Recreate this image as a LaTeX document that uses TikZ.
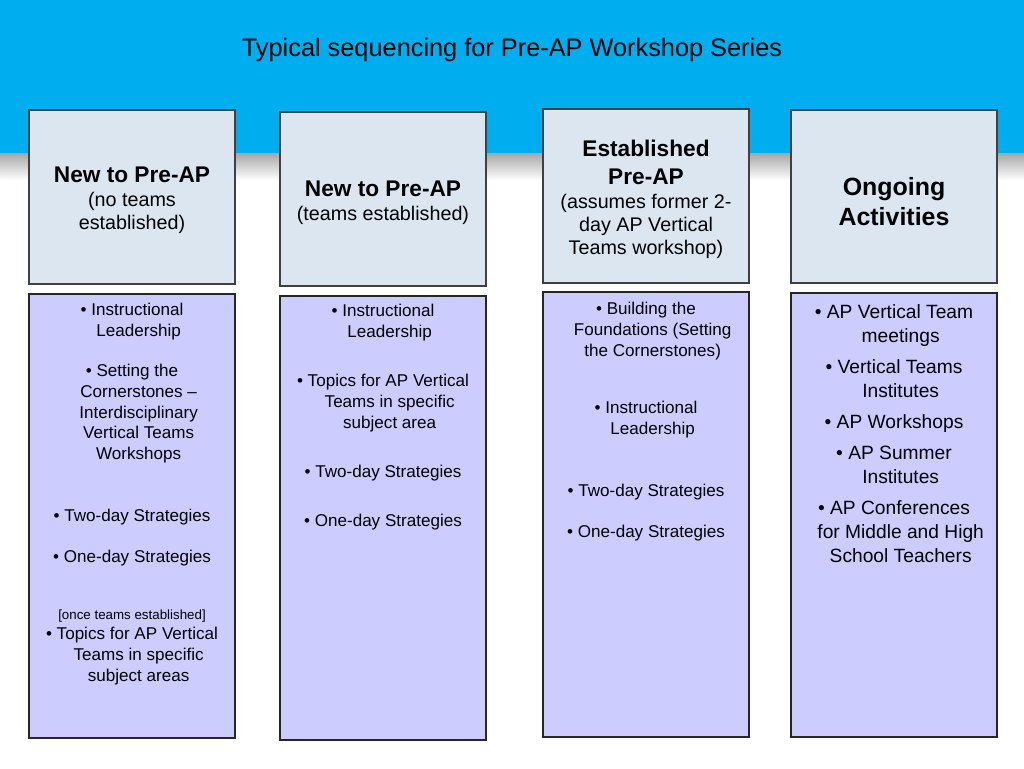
\documentclass[tikz,border=0pt]{standalone}
\usepackage{fontspec}
\setmainfont{Liberation Sans}
\definecolor{band}{RGB}{0,174,239}
\definecolor{headfill}{RGB}{220,230,241}
\definecolor{bodyfill}{RGB}{204,204,255}
\newcommand{\ci}{\hspace*{10pt}}
\newcommand{\bul}{\textbullet\ }
\tikzset{
  headbox/.style={draw=black!75, line width=0.8pt, fill=headfill, inner sep=0pt, minimum width=154.5pt, minimum height=130.5pt},
  bodybox/.style={draw=black!85, line width=0.8pt, fill=bodyfill, inner sep=0pt, minimum width=154.5pt, minimum height=333pt},
  txt/.style={font=\fontsize{12.8pt}{15.4pt}\selectfont, align=center, anchor=base, inner sep=0pt},
  bigtxt/.style={font=\fontsize{14.4pt}{18pt}\selectfont, align=center, anchor=base, inner sep=0pt},
  smalltxt/.style={font=\fontsize{10pt}{12pt}\selectfont, align=center, anchor=base, inner sep=0pt},
  headbold/.style={font=\fontsize{17pt}{21pt}\selectfont\bfseries, align=center, anchor=base, inner sep=0pt},
  headsub/.style={font=\fontsize{14.8pt}{17.4pt}\selectfont, align=center, anchor=base, inner sep=0pt},
  headbig/.style={font=\fontsize{18.7pt}{22.5pt}\selectfont\bfseries, align=center, anchor=base, inner sep=0pt},
  titletxt/.style={font=\fontsize{19pt}{23pt}\selectfont, anchor=base, inner sep=0pt}
}
\begin{document}
\begin{tikzpicture}[x=0.75pt,y=-0.75pt]
\useasboundingbox (0,0) rectangle (1024,768);
\fill[white] (0,0) rectangle (1024,768);
\shade[top color=black!35, bottom color=white] (0,153) rectangle (1024,180);
\fill[band] (0,0) rectangle (1024,153);

\node[titletxt] (title) at (512,56) {Typical sequencing for Pre-AP Workshop Series};

% header boxes
\node[headbox] (h1) at (132,197) {};
\node[headbox] (h2) at (383,199) {};
\node[headbox] (h3) at (646,196) {};
\node[headbox, minimum height=129.75pt] (h4) at (894,196.5) {};

% body boxes
\node[bodybox] (b1) at (132,516) {};
\node[bodybox] (b2) at (383,518) {};
\node[bodybox, minimum height=333.75pt] (b3) at (646,514.5) {};
\node[bodybox] (b4) at (894,515) {};

% header texts (multi-line nodes are anchored at the baseline of their last line)
\node[headbold] (h1t) at (132,182) {New to Pre-AP};
\node[headsub] (h1s) at (132,229.2) {(no teams\\established)};
\node[headbold] (h2t) at (383,196) {New to Pre-AP};
\node[headsub] (h2s) at (383,220) {(teams established)};
\node[headbold] (h3t) at (646,184) {Established\\Pre-AP};
\node[headsub] (h3s) at (646,254.4) {(assumes former 2-\\day AP Vertical\\Teams workshop)};
\node[headbig] (h4t) at (894,225) {Ongoing\\Activities};

% column 1
\node[txt] (c1a) at (132,336.5) {\bul Instructional\\\ci Leadership};
\node[txt] (c1b) at (132,459.1) {\bul Setting the\\\ci Cornerstones --\\\ci Interdisciplinary\\\ci Vertical Teams\\\ci Workshops};
\node[txt] (c1c) at (132,521) {\bul Two-day Strategies};
\node[txt] (c1d) at (132,562) {\bul One-day Strategies};
\node[smalltxt] (c1e) at (132,619) {[once teams established]};
\node[txt] (c1f) at (132,681) {\bul Topics for AP Vertical\\\ci Teams in specific\\\ci subject areas};

% column 2
\node[txt] (c2a) at (383,337.5) {\bul Instructional\\\ci Leadership};
\node[txt] (c2b) at (383,428) {\bul Topics for AP Vertical\\\ci Teams in specific\\\ci subject area};
\node[txt] (c2c) at (383,477) {\bul Two-day Strategies};
\node[txt] (c2d) at (383,526) {\bul One-day Strategies};

% column 3
\node[txt] (c3a) at (646,356) {\bul Building the\\\ci Foundations (Setting\\\ci the Cornerstones)};
\node[txt] (c3b) at (646,434.5) {\bul Instructional\\\ci Leadership};
\node[txt] (c3c) at (646,496) {\bul Two-day Strategies};
\node[txt] (c3d) at (646,537) {\bul One-day Strategies};

% column 4
\node[bigtxt] (c4a) at (894,342) {\bul AP Vertical Team\\\ci meetings};
\node[bigtxt] (c4b) at (894,397) {\bul Vertical Teams\\\ci Institutes};
\node[bigtxt] (c4c) at (894,428) {\bul AP Workshops};
\node[bigtxt] (c4d) at (894,483) {\bul AP Summer\\\ci Institutes};
\node[bigtxt] (c4e) at (894,562) {\bul AP Conferences\\\ci for Middle and High\\\ci School Teachers};
\end{tikzpicture}
\end{document}
